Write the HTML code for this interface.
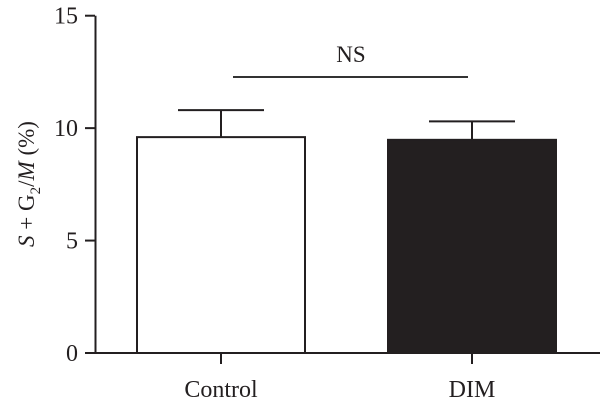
<!DOCTYPE html>
<html><head><meta charset="utf-8"><style>html,body{margin:0;padding:0;background:#fff;}svg{display:block;font-family:"Liberation Serif",serif;}</style></head>
<body>
<svg id="chart" width="600" height="410" viewBox="0 0 600 410" xmlns="http://www.w3.org/2000/svg"></svg>
<script>
const categories = ["Control", "DIM"];
const values = [9.6, 9.48];
const errors = [1.2, 0.82];
const yTicks = [0, 5, 10, 15];
const fills = ["#ffffff", "#231f20"];

const svg = document.getElementById('chart');
const NS = 'http://www.w3.org/2000/svg';
const y0 = 353, yTop = 15.7, yMax = 15;
const y = v => y0 - (y0 - yTop) * v / yMax;
const xC = i => 221 + i * 251;
const barW = 168, capHalf = 43;
function mk(tag, attrs, parent) {
  const e = document.createElementNS(NS, tag);
  for (const k in attrs) e.setAttribute(k, attrs[k]);
  (parent || svg).appendChild(e);
  return e;
}
const stroke = '#231f20';
const gAxis = mk('g', {});


mk('line', {x1: 95.5, y1: y(15), x2: 95.5, y2: y0, stroke, 'stroke-width': 2}, gAxis);
yTicks.forEach(t => {
  mk('line', {x1: 85, y1: y(t), x2: 95, y2: y(t), stroke, 'stroke-width': 2}, gAxis);
  const tx = mk('text', {x: 78, y: y(t) + 8, 'text-anchor': 'end', 'font-size': 24, fill: stroke}, gAxis);
  
  
  tx.textContent = t;
});
const yt = mk('text', {transform: 'translate(34,184) rotate(-90)', 'text-anchor': 'middle', 'font-size': 23, fill: stroke});


yt.innerHTML = '<tspan font-style="italic">S</tspan> + G<tspan font-size="15" dy="6">2</tspan><tspan dy="-6">/</tspan><tspan font-style="italic">M</tspan> (%)';

categories.forEach((c, i) => {
  const cx = xC(i);
  const r = mk('rect', {x: cx - barW / 2, y: y(values[i]), width: barW, height: y0 - y(values[i]), fill: fills[i], stroke, 'stroke-width': 2});
  
  
  const eg = mk('g', {stroke, 'stroke-width': 2});
  
  
  mk('line', {x1: cx, y1: y(values[i]), x2: cx, y2: y(values[i] + errors[i])}, eg);
  mk('line', {x1: cx - capHalf, y1: y(values[i] + errors[i]), x2: cx + capHalf, y2: y(values[i] + errors[i])}, eg);
  mk('line', {x1: cx, y1: y0, x2: cx, y2: y0 + 11, stroke, 'stroke-width': 2});
  const lt = mk('text', {x: cx, y: 397, 'text-anchor': 'middle', 'font-size': 24, fill: stroke});
  
  
  lt.textContent = c;
});
const xa = mk('line', {x1: 85, y1: y0, x2: 600, y2: y0, stroke, 'stroke-width': 2});


const nl = mk('line', {x1: 233, y1: 77, x2: 468, y2: 77, stroke: '#333', 'stroke-width': 2});


const nt = mk('text', {x: 351, y: 62, 'text-anchor': 'middle', 'font-size': 23, fill: stroke});


nt.textContent = 'NS';
</script>
</body></html>
